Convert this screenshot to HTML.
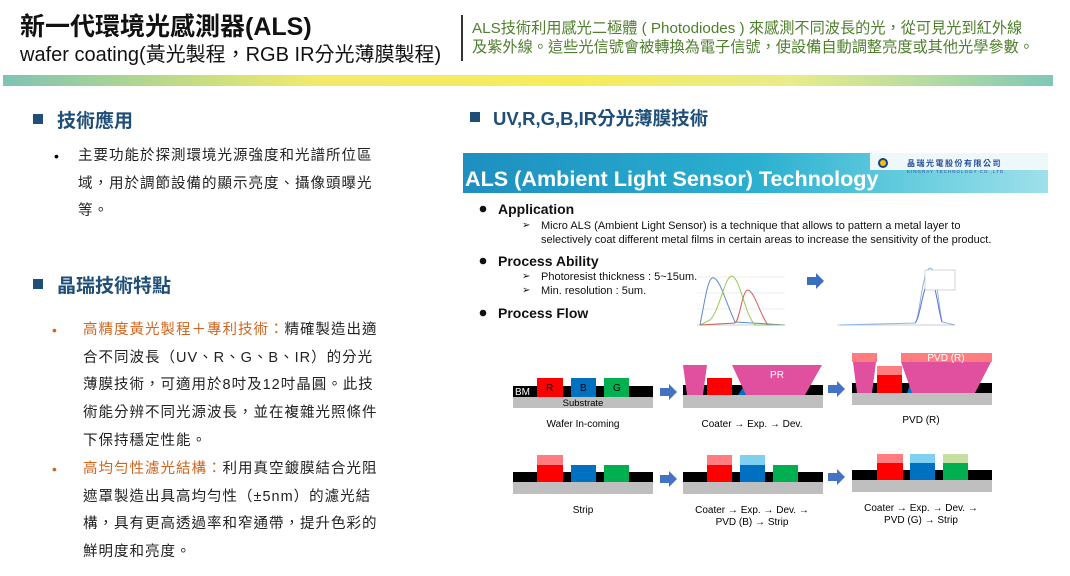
<!DOCTYPE html>
<html><head><meta charset="utf-8">
<style>
html,body{margin:0;padding:0;background:#fff;}
body{width:1070px;height:576px;position:relative;overflow:hidden;font-family:"Liberation Sans","Noto Sans CJK TC",sans-serif;}
.a{position:absolute;white-space:nowrap;}
.h{font-size:19px;font-weight:bold;color:#1f4e79;}
.sq{position:absolute;width:10px;height:10px;background:#1f4e79;}
.t{font-size:14.5px;color:#222;letter-spacing:1px;line-height:27.7px;}
.o{color:#d0651e;}
</style></head><body>
<div class="a" style="left:20px;top:7px;font-size:25px;font-weight:bold;color:#111;">新一代環境光感測器(ALS)</div>
<div class="a" style="left:20px;top:38px;font-size:20px;color:#111;">wafer coating(黃光製程，RGB IR分光薄膜製程)</div>
<div class="a" style="left:461px;top:15px;width:2px;height:46px;background:#333;"></div>
<div class="a" style="left:472px;top:19px;font-size:15.2px;color:#4f7f2c;line-height:19px;">ALS技術利用感光二極體 ( Photodiodes ) 來感測不同波長的光，從可見光到紅外線<br>及紫外線。這些光信號會被轉換為電子信號，使設備自動調整亮度或其他光學參數。</div>
<div class="a" style="left:3px;top:75px;width:1050px;height:11px;background:linear-gradient(90deg,#7fc3b4 0%,#b8d98a 15%,#f3ea6a 30%,#f6ec5a 55%,#e8ec8a 75%,#b6dca0 88%,#7fc7b6 100%);"></div>

<div class="sq" style="left:33px;top:114px;"></div>
<div class="a h" style="left:57px;top:106px;">技術應用</div>
<div class="a" style="left:54px;top:148px;font-size:14px;">•</div>
<div class="a t" style="left:78px;top:143px;">主要功能於探測環境光源強度和光譜所位區<br>域，用於調節設備的顯示亮度、攝像頭曝光<br>等。</div>

<div class="sq" style="left:33px;top:279px;"></div>
<div class="a h" style="left:57px;top:271px;">晶瑞技術特點</div>
<div class="a o" style="left:52px;top:322px;font-size:14px;">•</div>
<div class="a t" style="left:83px;top:317px;"><span class="o">高精度黃光製程＋專利技術：</span>精確製造出適<br>合不同波長（UV、R、G、B、IR）的分光<br>薄膜技術，可適用於8吋及12吋晶圓。此技<br>術能分辨不同光源波長，並在複雜光照條件<br>下保持穩定性能。</div>
<div class="a o" style="left:52px;top:461px;font-size:14px;">•</div>
<div class="a t" style="left:83px;top:456px;"><span class="o">高均勻性濾光結構：</span>利用真空鍍膜結合光阻<br>遮罩製造出具高均勻性（±5nm）的濾光結<br>構，具有更高透過率和窄通帶，提升色彩的<br>鮮明度和亮度。</div>

<div class="sq" style="left:470px;top:112px;"></div>
<div class="a h" style="left:493px;top:105px;font-size:18.5px;">UV,R,G,B,IR分光薄膜技術</div>

<svg class="a" style="left:0;top:0" width="1070" height="576" xmlns="http://www.w3.org/2000/svg">
<defs>
<linearGradient id="bn" x1="0" x2="1" y1="0" y2="0"><stop offset="0" stop-color="#1d8fc0"/><stop offset="0.5" stop-color="#2bb0d0"/><stop offset="0.8" stop-color="#6fd0e0"/><stop offset="1" stop-color="#9ee0ea"/></linearGradient>
</defs>
<rect x="463" y="153" width="585" height="40" fill="url(#bn)"/>
<rect x="870" y="153" width="178" height="17" fill="#eef8fa"/>
<text x="465" y="186" font-family="Liberation Sans" font-weight="bold" font-size="21.6" fill="#fff">ALS (Ambient Light Sensor) Technology</text>
<circle cx="883" cy="163" r="5" fill="#1b3f8f"/><circle cx="883" cy="163" r="3" fill="#f5c400"/>
<text x="907" y="166" font-family="Noto Sans CJK TC" font-weight="bold" font-size="8" fill="#2a4f9a" letter-spacing="1.5">晶瑞光電股份有限公司</text>
<text x="907" y="173" font-family="Liberation Sans" font-size="4.5" fill="#2a4f9a" letter-spacing="1">KINGRAY TECHNOLOGY CO.,LTD</text>
<g font-family="Liberation Sans" fill="#111">
<circle cx="483" cy="209" r="3.3"/><text x="498" y="214" font-size="14" font-weight="bold">Application</text>
<text x="522" y="228" font-size="10">➢</text><text x="541" y="229" font-size="11">Micro ALS (Ambient Light Sensor) is a technique that allows to pattern a metal layer to</text>
<text x="541" y="243" font-size="11">selectively coat different metal films in certain areas to increase the sensitivity of the product.</text>
<circle cx="483" cy="261" r="3.3"/><text x="498" y="266" font-size="14" font-weight="bold">Process Ability</text>
<text x="522" y="279" font-size="10">➢</text><text x="541" y="280" font-size="11">Photoresist thickness : 5~15um.</text>
<text x="522" y="293" font-size="10">➢</text><text x="541" y="294" font-size="11">Min. resolution : 5um.</text>
<circle cx="483" cy="313" r="3.3"/><text x="498" y="318" font-size="14" font-weight="bold">Process Flow</text>
</g>
<!-- chart 1 -->
<g fill="none" stroke-width="1">
<line x1="697" y1="325" x2="785" y2="325" stroke="#ccc"/>
<line x1="697" y1="277" x2="785" y2="277" stroke="#eee"/><line x1="697" y1="293" x2="785" y2="293" stroke="#eee"/><line x1="697" y1="309" x2="785" y2="309" stroke="#eee"/>
<path d="M700 325 C705 300 708 275 714 278 C720 280 725 300 735 322 L785 325" stroke="#5b8ac4"/>
<path d="M700 325 L710 320 C720 310 725 275 732 276 C740 278 745 315 755 325 L785 325" stroke="#9cc65a"/>
<path d="M700 325 L735 323 C740 320 742 290 748 290 C755 292 760 315 768 325" stroke="#d0605a"/>
</g>
<path d="M807 277 h9 v-4 l8 8 l-8 8 v-4 h-9z" fill="#3a6fc0"/>
<!-- chart 2 -->
<g fill="none">
<line x1="837" y1="325" x2="955" y2="325" stroke="#ccc"/>
<path d="M840 325 L915 323 C920 318 922 270 930 268 C936 268 938 300 942 322 L955 325" stroke="#8ab5ea"/>
<path d="M915 323 C920 320 923 283 930 280 C936 282 938 310 942 322" stroke="#6a70d0"/>
<rect x="925" y="270" width="30" height="20" fill="#fff" stroke="#aaa" stroke-width="0.5"/>
</g>
<!-- Row 1 panel 1 -->
<rect x="513" y="397" width="140" height="11" fill="#bfbfbf"/>
<rect x="513" y="386" width="140" height="11" fill="#000"/>
<rect x="537" y="378" width="26" height="19" fill="#f00"/>
<rect x="571" y="378" width="25" height="19" fill="#0070c0"/>
<rect x="604" y="378" width="25" height="19" fill="#00b050"/>
<g font-family="Liberation Sans" font-size="10">
<text x="515" y="395" fill="#fff">BM</text><text x="546" y="391">R</text><text x="580" y="391">B</text><text x="613" y="391">G</text>
<text x="583" y="406" text-anchor="middle" font-size="9.5">Substrate</text>
<text x="583" y="427" text-anchor="middle">Wafer In-coming</text>
</g>
<path d="M660 388 h9 v-4 l8 8 l-8 8 v-4 h-9z" fill="#4472c4"/>
<!-- panel 2 -->
<rect x="683" y="395" width="140" height="13" fill="#bfbfbf"/>
<rect x="683" y="385" width="140" height="10" fill="#000"/>
<rect x="707" y="378" width="25" height="17" fill="#f00"/>
<polygon points="738,395 748,380 748,395" fill="#0070c0"/>
<polygon points="683,365 707,365 703,395 687,395" fill="#e0509e"/>
<polygon points="732,365 822,365 805,395 746,395" fill="#e0509e"/>
<text x="777" y="378" font-family="Liberation Sans" font-size="10" fill="#fff" text-anchor="middle">PR</text>
<text x="752" y="427" font-family="Liberation Sans" font-size="10" text-anchor="middle">Coater → Exp. → Dev.</text>
<path d="M828 385 h9 v-4 l8 8 l-8 8 v-4 h-9z" fill="#4472c4"/>
<!-- panel 3 -->
<rect x="852" y="393" width="140" height="12" fill="#bfbfbf"/>
<rect x="852" y="383" width="140" height="10" fill="#000"/>
<rect x="877" y="375" width="25" height="18" fill="#f00"/>
<rect x="877" y="366" width="25" height="9" fill="#ff7c80"/>
<polygon points="907,393 912,378 912,393" fill="#0070c0"/>
<rect x="852" y="353" width="25" height="9" fill="#ff7c80"/>
<polygon points="853,362 876,362 872,393 857,393" fill="#e0509e"/>
<rect x="901" y="353" width="91" height="9" fill="#ff7c80"/>
<polygon points="901,362 991,362 975,393 912,393" fill="#e0509e"/>
<text x="946" y="361" font-family="Liberation Sans" font-size="10" fill="#fff" text-anchor="middle">PVD (R)</text>
<text x="921" y="423" font-family="Liberation Sans" font-size="10" text-anchor="middle">PVD (R)</text>
<!-- Row 2 -->
<rect x="513" y="482" width="140" height="12" fill="#bfbfbf"/>
<rect x="513" y="472" width="140" height="10" fill="#000"/>
<rect x="537" y="465" width="26" height="17" fill="#f00"/><rect x="537" y="455" width="26" height="10" fill="#ff7c80"/>
<rect x="571" y="465" width="25" height="17" fill="#0070c0"/>
<rect x="604" y="465" width="25" height="17" fill="#00b050"/>
<text x="583" y="513" font-family="Liberation Sans" font-size="10" text-anchor="middle">Strip</text>
<path d="M660 475 h9 v-4 l8 8 l-8 8 v-4 h-9z" fill="#4472c4"/>
<rect x="683" y="482" width="140" height="12" fill="#bfbfbf"/>
<rect x="683" y="472" width="140" height="10" fill="#000"/>
<rect x="707" y="465" width="25" height="17" fill="#f00"/><rect x="707" y="455" width="25" height="10" fill="#ff7c80"/>
<rect x="740" y="465" width="25" height="17" fill="#0070c0"/><rect x="740" y="455" width="25" height="10" fill="#7fd0f0"/>
<rect x="773" y="465" width="25" height="17" fill="#00b050"/>
<text x="752" y="513" font-family="Liberation Sans" font-size="10" text-anchor="middle">Coater → Exp. → Dev. →</text>
<text x="752" y="525" font-family="Liberation Sans" font-size="10" text-anchor="middle">PVD (B) → Strip</text>
<path d="M828 473 h9 v-4 l8 8 l-8 8 v-4 h-9z" fill="#4472c4"/>
<rect x="852" y="480" width="140" height="12" fill="#bfbfbf"/>
<rect x="852" y="470" width="140" height="10" fill="#000"/>
<rect x="877" y="463" width="26" height="17" fill="#f00"/><rect x="877" y="454" width="26" height="9" fill="#ff7c80"/>
<rect x="910" y="463" width="25" height="17" fill="#0070c0"/><rect x="910" y="454" width="25" height="9" fill="#7fd0f0"/>
<rect x="943" y="463" width="25" height="17" fill="#00b050"/><rect x="943" y="454" width="25" height="9" fill="#c5e0a0"/>
<text x="921" y="511" font-family="Liberation Sans" font-size="10" text-anchor="middle">Coater → Exp. → Dev. →</text>
<text x="921" y="523" font-family="Liberation Sans" font-size="10" text-anchor="middle">PVD (G) → Strip</text>
</svg>
</body></html>
